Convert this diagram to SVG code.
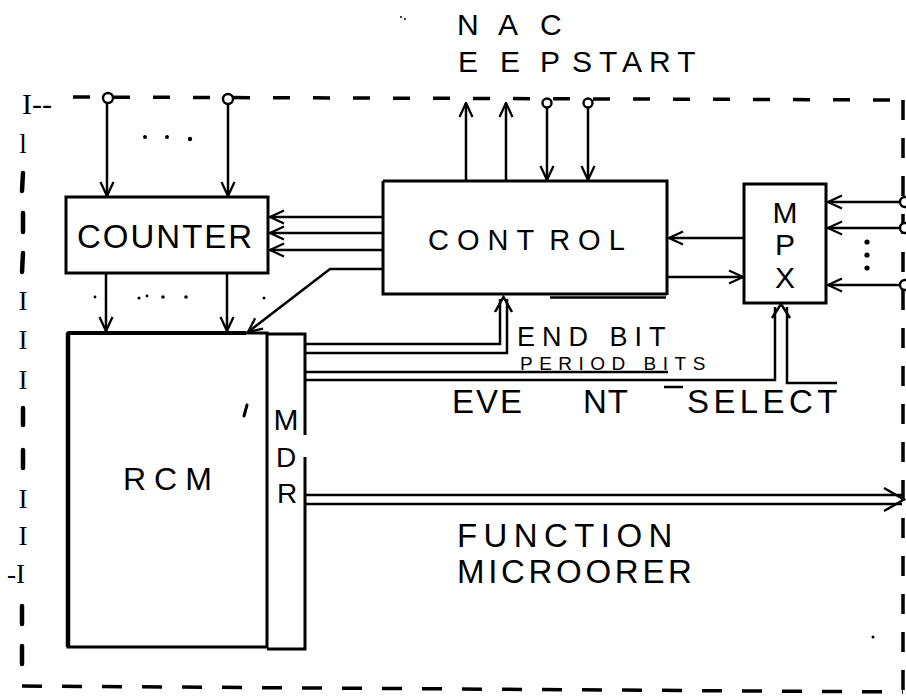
<svg xmlns="http://www.w3.org/2000/svg" width="906" height="697" viewBox="0 0 906 697">
<style>
.box{fill:none;stroke:#000;stroke-width:3;stroke-linejoin:miter}
.ln{fill:none;stroke:#000;stroke-width:2.5}
.lbl{font-family:"Liberation Sans",Arial,sans-serif;fill:#000}
.ser{font-family:"Liberation Serif","Times New Roman",serif;fill:#000}
.brd{fill:none;stroke:#000;stroke-width:3.5}
.tk{stroke:#000;stroke-width:4.5;stroke-linecap:round}
.term{fill:#fff;stroke:#000;stroke-width:2.4}
.dot{fill:#000}
</style>
<defs>
<marker id="ah" viewBox="0 0 16 16" refX="15" refY="8" markerWidth="16" markerHeight="16" markerUnits="userSpaceOnUse" orient="auto">
<path d="M1,1.5 L15,8 L1,14.5" fill="none" stroke="#000" stroke-width="2.3"/>
</marker>
</defs>
<rect width="906" height="697" fill="#fff"/>

<g id="boundary">
<path class="brd" d="M73,97 L903,100" stroke-dasharray="17 23"/>
<path class="brd" d="M903,100 L903,692" stroke-width="4" stroke-dasharray="20 18"/>
<path class="brd" d="M22,686 L903,692" stroke-dasharray="20 20"/>
<text class="ser" x="22" y="114" font-size="30">I--</text>
<text class="ser" x="23" y="153" font-size="27" text-anchor="middle">l</text>
<line class="tk" x1="23" y1="173" x2="22" y2="191"/>
<line class="tk" x1="23" y1="213" x2="23" y2="232"/>
<line class="tk" x1="23" y1="253" x2="22" y2="272"/>
<text class="ser" x="23" y="310" font-size="27" text-anchor="middle">I</text>
<text class="ser" x="23" y="349" font-size="27" text-anchor="middle">I</text>
<text class="ser" x="23" y="389" font-size="27" text-anchor="middle">I</text>
<line class="tk" x1="23" y1="408" x2="23" y2="425"/>
<line class="tk" x1="23" y1="450" x2="23" y2="468"/>
<text class="ser" x="23" y="508" font-size="27" text-anchor="middle">I</text>
<text class="ser" x="23" y="545" font-size="27" text-anchor="middle">I</text>
<text class="ser" x="7" y="583" font-size="27">-I</text>
<line class="tk" x1="22" y1="606" x2="22" y2="624"/>
<line class="tk" x1="22" y1="646" x2="22" y2="664"/>
</g>

<g id="counter">
<rect class="box" x="66" y="197" width="202" height="76"/>
<text class="lbl" x="77" y="248" font-size="33" letter-spacing="2">COUNTER</text>
</g>

<g id="control">
<path class="box" d="M383,181 H667 V295 M383,181 V294 H667"/>
<line class="ln" x1="550" y1="297.5" x2="666" y2="297.5" stroke-width="2.6"/>
<text class="lbl" x="428" y="250" font-size="29" letter-spacing="8">CONT<tspan dx="7">ROL</tspan></text>
</g>

<g id="mpx">
<rect class="box" x="744" y="184" width="82" height="119"/>
<text class="lbl" x="785" y="223" font-size="30" text-anchor="middle">M</text>
<text class="lbl" x="785" y="255" font-size="30" text-anchor="middle">P</text>
<text class="lbl" x="785" y="288" font-size="30" text-anchor="middle">X</text>
</g>

<g id="rom">
<path class="box" d="M68,333 H267 V647 H68 Z"/>
<line x1="68" y1="333" x2="68" y2="647" stroke="#000" stroke-width="4.5"/>
<line x1="68" y1="333" x2="246" y2="333" stroke="#000" stroke-width="4"/>
<text class="lbl" x="123" y="490" font-size="32" letter-spacing="8">RCM</text>
<line x1="247" y1="405" x2="244" y2="416" stroke="#000" stroke-width="3" stroke-linecap="round"/>
</g>

<g id="mdr">
<path class="box" d="M267,334 H305 V435 M305,457 V649 H267"/>
<text class="lbl" x="286" y="430" font-size="30" text-anchor="middle">M</text>
<text class="lbl" x="286" y="467" font-size="28" text-anchor="middle">D</text>
<text class="lbl" x="287" y="503" font-size="28" text-anchor="middle">R</text>
</g>

<g id="terminals">
<circle class="term" cx="108" cy="98" r="5"/>
<circle class="term" cx="228" cy="99" r="5"/>
<circle class="term" cx="547" cy="103" r="4.5"/>
<circle class="term" cx="588" cy="103" r="4.5"/>
<circle class="term" cx="905" cy="202" r="5"/>
<circle class="term" cx="905" cy="228" r="5"/>
<circle class="term" cx="905" cy="285" r="5"/>
</g>

<g id="connectors">
<line class="ln" x1="107" y1="103" x2="107" y2="196" marker-end="url(#ah)"/>
<line class="ln" x1="228" y1="104" x2="228" y2="196" marker-end="url(#ah)"/>
<line class="ln" x1="466" y1="182" x2="466" y2="103" marker-end="url(#ah)"/>
<line class="ln" x1="506" y1="182" x2="506" y2="103" marker-end="url(#ah)"/>
<line class="ln" x1="547" y1="108" x2="547" y2="180" marker-end="url(#ah)"/>
<line class="ln" x1="588" y1="108" x2="588" y2="180" marker-end="url(#ah)"/>
<line class="ln" x1="383" y1="217" x2="270" y2="217" marker-end="url(#ah)"/>
<line class="ln" x1="383" y1="233" x2="270" y2="233" marker-end="url(#ah)"/>
<line class="ln" x1="383" y1="250" x2="270" y2="250" marker-end="url(#ah)"/>
<polyline class="ln" points="383,269 330,269 248,332" marker-end="url(#ah)"/>
<line class="ln" x1="106" y1="273" x2="106" y2="331" marker-end="url(#ah)"/>
<line class="ln" x1="227" y1="273" x2="227" y2="331" marker-end="url(#ah)"/>
<line class="ln" x1="744" y1="238" x2="669" y2="238" marker-end="url(#ah)"/>
<line class="ln" x1="667" y1="277" x2="743" y2="277" marker-end="url(#ah)"/>
<line class="ln" x1="900" y1="202" x2="828" y2="202" marker-end="url(#ah)"/>
<line class="ln" x1="900" y1="228" x2="828" y2="228" marker-end="url(#ah)"/>
<line class="ln" x1="900" y1="285" x2="828" y2="285" marker-end="url(#ah)"/>
<path class="ln" d="M305,344 H500 V299 M305,353 H507 V299"/>
<path class="ln" d="M495,312 L503.5,297 L512,312"/>
<path class="ln" d="M305,372 H668"/>
<path class="ln" d="M305,380 H775 V307 M837,383 H787 V307"/>
<path class="ln" d="M772,318 L781,304 L790,318"/>
<path class="ln" d="M664,387 H683"/>
<path class="ln" d="M305,495 H902 M305,504 H902" stroke-width="2.8"/>
<path class="ln" d="M884,488 L904,499.5 L884,511"/>
</g>

<g id="labels">
<text class="lbl" font-size="30" x="457 478 498 519 540" y="35">N A C</text>
<text class="lbl" font-size="30" x="458 479 500 520 540" y="72">E E P</text>
<text class="lbl" font-size="30" x="572" y="72" letter-spacing="7">START</text>
<text class="lbl" font-size="27" x="517" y="346" letter-spacing="7">END BIT</text>
<text class="lbl" font-size="19" x="520" y="370" letter-spacing="6.5">PERIOD BITS</text>
<text class="lbl" font-size="33" y="413"><tspan x="452" letter-spacing="2">EVE</tspan> <tspan x="583" letter-spacing="1">NT</tspan> <tspan x="687" letter-spacing="4.4">SELECT</tspan></text>
<text class="lbl" font-size="33" x="457" y="547" letter-spacing="6.4">FUNCTION</text>
<text class="lbl" font-size="33" x="457" y="583" letter-spacing="3.7">MICROORER</text>
</g>

<g id="dots">
<circle class="dot" cx="145" cy="137" r="2"/>
<circle class="dot" cx="167" cy="137" r="2"/>
<circle class="dot" cx="190" cy="139" r="2.2"/>
<circle class="dot" cx="95" cy="297" r="1.4"/>
<circle class="dot" cx="139" cy="298" r="1.6"/>
<circle class="dot" cx="147" cy="296" r="1.4"/>
<circle class="dot" cx="163" cy="297" r="1.8"/>
<circle class="dot" cx="186" cy="297" r="1.8"/>
<circle class="dot" cx="264" cy="298" r="1.5"/>
<circle class="dot" cx="867" cy="242" r="2.6"/>
<circle class="dot" cx="867" cy="255" r="2.6"/>
<circle class="dot" cx="867" cy="268" r="2.6"/>
<circle class="dot" cx="401" cy="17" r="1"/>
<circle class="dot" cx="405" cy="19" r="1"/>
<circle class="dot" cx="873" cy="637" r="1.5"/>
</g>
</svg>
